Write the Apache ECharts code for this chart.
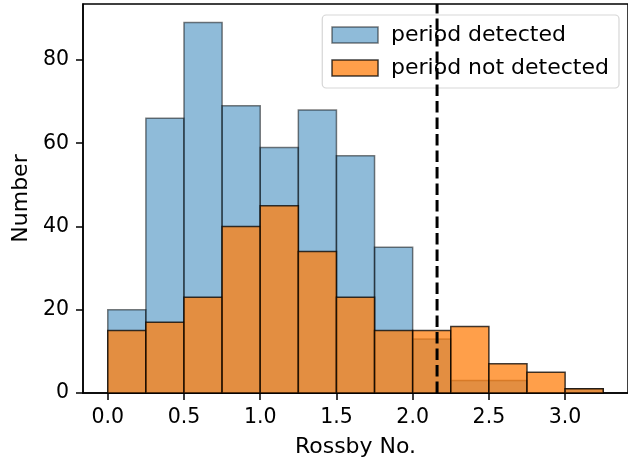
<!DOCTYPE html>
<html>
<head>
<meta charset="utf-8">
<script src="https://cdn.jsdelivr.net/npm/echarts@6/dist/echarts.min.js"></script>
<style>
  html, body { margin: 0; padding: 0; background: #fff; }
  #chart { width: 628px; height: 463px; }
</style>
</head>
<body>
<div id="chart"></div>
<script>
// Histogram bins (Rossby number), width 0.25
var binEdges = [0, 0.25, 0.5, 0.75, 1.0, 1.25, 1.5, 1.75, 2.0, 2.25, 2.5, 2.75, 3.0, 3.25];
var detectedCounts = [20, 66, 89, 69, 59, 68, 57, 35, 13, 3, 3, 0, 1];
var notDetectedCounts = [15, 17, 23, 40, 45, 34, 23, 15, 15, 16, 7, 5, 1];
var xTicks = [0.0, 0.5, 1.0, 1.5, 2.0, 2.5, 3.0];
var yTicks = [0, 20, 40, 60, 80];
var cutoffRossby = 2.16;

var FONT = 'DejaVu Sans';
var xMin = -0.1625, xMax = 3.4125;
var yMax = 93.45;

function binData(counts) {
  var out = [];
  for (var i = 0; i < counts.length; i++) {
    if (counts[i] > 0) out.push([binEdges[i], binEdges[i + 1], counts[i]]);
  }
  return out;
}

function barRenderer(fill, stroke) {
  return function (params, api) {
    var p0 = api.coord([api.value(0), 0]);
    var p1 = api.coord([api.value(1), api.value(2)]);
    return {
      type: 'rect',
      shape: { x: p0[0], y: p1[1], width: p1[0] - p0[0], height: p0[1] - p1[1] },
      style: { fill: fill, stroke: stroke, lineWidth: 1.5 }
    };
  };
}

var blueFill = 'rgba(31,119,180,0.5)', blueEdge = 'rgba(0,0,0,0.5)';
var orangeFill = 'rgba(255,127,14,0.75)', orangeEdge = 'rgba(0,0,0,0.75)';

var chart = echarts.init(document.getElementById('chart'), null, { renderer: 'canvas' });
chart.setOption({
  animation: false,
  backgroundColor: '#fff',
  textStyle: { fontFamily: FONT },
  grid: {
    left: 83, right: -2, top: 4, bottom: 68,
    show: true, borderColor: '#000', borderWidth: 1.5, backgroundColor: 'transparent'
  },
  legend: {
    orient: 'vertical',
    right: 9, top: 15,
    padding: [9, 10, 9, 9],
    itemWidth: 46, itemHeight: 16, itemGap: 11,
    backgroundColor: 'rgba(255,255,255,0.8)',
    borderColor: 'rgba(204,204,204,0.8)', borderWidth: 1.2, borderRadius: 4,
    textStyle: { fontFamily: FONT, fontSize: 22, color: '#000', lineHeight: 22, padding: [0, 0, 0, 8] },
    data: [
      { name: 'period detected', icon: 'rect', itemStyle: { color: blueFill, borderColor: blueEdge, borderWidth: 1.5 } },
      { name: 'period not detected', icon: 'rect', itemStyle: { color: orangeFill, borderColor: orangeEdge, borderWidth: 1.5 } }
    ]
  },
  xAxis: {
    type: 'value', min: xMin, max: xMax,
    name: 'Rossby No.', nameLocation: 'middle', nameGap: 43,
    nameTextStyle: { fontFamily: FONT, fontSize: 22, color: '#000' },
    axisLine: { show: true, onZero: false, lineStyle: { color: '#000', width: 1.5 } },
    axisTick: { show: true, customValues: xTicks, length: 7, lineStyle: { color: '#000', width: 1.5 } },
    axisLabel: { customValues: xTicks, fontFamily: FONT, fontSize: 20.5, color: '#000', margin: 14,
      formatter: function (v) { return v.toFixed(1); } },
    splitLine: { show: false }
  },
  yAxis: {
    type: 'value', min: 0, max: yMax,
    name: 'Number', nameLocation: 'middle', nameGap: 51, nameRotate: 90,
    nameTextStyle: { fontFamily: FONT, fontSize: 22, color: '#000' },
    axisLine: { show: true, onZero: false, lineStyle: { color: '#000', width: 1.5 } },
    axisTick: { show: true, customValues: yTicks, length: 7, lineStyle: { color: '#000', width: 1.5 } },
    axisLabel: { customValues: yTicks, fontFamily: FONT, fontSize: 20.5, color: '#000', margin: 14 },
    splitLine: { show: false }
  },
  series: [
    {
      name: 'period detected', type: 'custom',
      renderItem: barRenderer(blueFill, blueEdge),
      itemStyle: { color: blueFill, borderColor: blueEdge },
      encode: { x: [0, 1], y: 2 },
      data: binData(detectedCounts), z: 2
    },
    {
      name: 'period not detected', type: 'custom',
      renderItem: barRenderer(orangeFill, orangeEdge),
      itemStyle: { color: orangeFill, borderColor: orangeEdge },
      encode: { x: [0, 1], y: 2 },
      data: binData(notDetectedCounts), z: 3
    },
    {
      name: 'cutoff', type: 'line', silent: true, symbol: 'none', z: 4,
      lineStyle: { color: '#000', width: 3, type: [11.5, 5] },
      data: [[cutoffRossby, 0], [cutoffRossby, yMax]]
    }
  ]
});
</script>
</body>
</html>
